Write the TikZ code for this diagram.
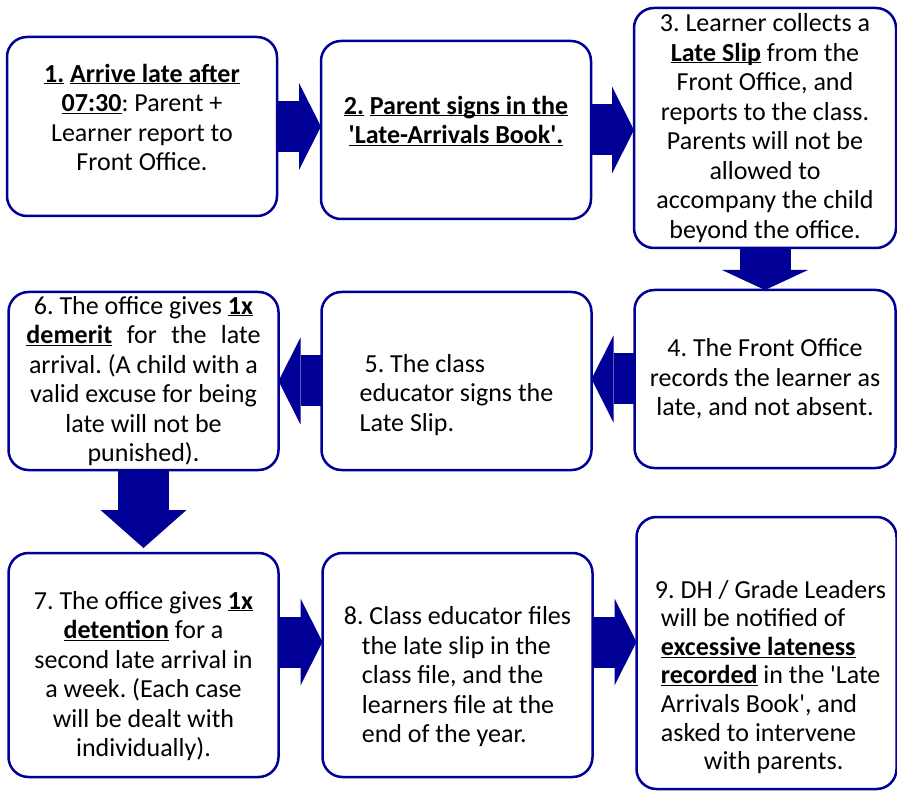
\documentclass[tikz,border=0pt]{standalone}
\usepackage{fontspec}
\setmainfont{Carlito}
\usetikzlibrary{positioning}
\usetikzlibrary{arrows.meta}
\definecolor{flowblue}{RGB}{0,0,150}
\newcommand{\ubf}[1]{\underline{\smash{\textbf{#1}}}}
\newcommand{\sq}{\textquotesingle}
\frenchspacing
\tikzset{
	stage/.style={rectangle, draw=flowblue, line width=2.5pt, rounded corners=20pt, outer sep=0pt, minimum width=270pt, minimum height=178pt, fill=white},
	stagetext/.style={align=center, inner sep=0pt, font=\fontsize{26}{29.5}\selectfont},
	bigarrow/.style={draw=flowblue, line width=51pt, -{Triangle[length=22pt, width=87pt, line width=0pt]}}
}
\begin{document}
\begin{tikzpicture}
\useasboundingbox (0,0) rectangle (897pt,-791pt);

\node[stage, minimum height=179pt] (b1) at (142pt,-126.5pt) {};
\node[stage, right = 44pt of b1, yshift=-3.5pt] (b2) {};
\node[stage, minimum width=262pt, minimum height=240pt, right = 43pt of b2, yshift=2pt] (b3) {};
\node[stage, minimum width=261pt, below = 42pt of b3] (b4) {};
\node[stage, left = 43pt of b4, yshift=-2pt] (b5) {};
\node[stage, left = 43pt of b5] (b6) {};
\node[stage, minimum height=224pt, below = 83pt of b6] (b7) {};
\node[stage, minimum height=224pt, right = 44pt of b7] (b8) {};
\node[stage, minimum width=260pt, minimum height=272pt, right = 44pt of b8, yshift=12pt] (b9) {};

\node[stagetext] (t1) at (b1) {\ubf{1.} \ubf{Arrive late after}\\
	\ubf{07:30}: Parent +\\Learner report to\\Front Office.};
\node[stagetext] (t2) at (b2) {\ubf{2.} \ubf{Parent signs in the}\\
	\ubf{\sq Late-Arrivals Book\sq.}};
\node[stagetext] (t3) at (b3) {3. Learner collects a\\\ubf{Late Slip} from the\\
	Front Office, and\\reports to the class.\\Parents will not be\\allowed to\\
	accompany the child\\beyond the office.};
\node[stagetext] (t4) at (b4) {4. The Front Office\\records the learner as\\
	late, and not absent.};
\node[stagetext, align=left] (t5) at ([yshift=-14pt]b5.center) {\hspace*{5pt}5. The class\\
	educator signs the\\Late Slip.};
\node[stagetext] (t6) at (b6) {6. The office gives \ubf{1x}\\
	\makebox[234pt][s]{\ubf{demerit} for the late}\\arrival. (A child with a\\
	valid excuse for being\\late will not be\\punished).};
\node[stagetext] (t7) at ([yshift=-11pt]b7.center) {7. The office gives \ubf{1x}\\
	\ubf{detention} for a\\second late arrival in\\a week. (Each case\\
	will be dealt with\\individually).};
\node[stagetext, align=left] (t8) at ([yshift=-12pt]b8.center) {8. Class educator files\\
	\hspace*{18pt}the late slip in the\\\hspace*{18pt}class file, and the\\
	\hspace*{18pt}learners file at the\\\hspace*{18pt}end of the year.};
\node[stagetext, align=left, font=\fontsize{26}{28.6}\selectfont] (t9) at ([xshift=4pt, yshift=-24pt]b9.center) {9. DH / Grade Leaders\\
	\hspace*{6pt}will be notified of\\\hspace*{6pt}\ubf{excessive lateness}\\
	\hspace*{6pt}\ubf{recorded} in the \sq Late\\\hspace*{6pt}Arrivals Book\sq, and\\
	\hspace*{6pt}asked to intervene\\\hspace*{49pt}with parents.};

\draw [bigarrow] (b1.east) -- (b1.east -| b2.west);
\draw [bigarrow] (b2.east) -- (b2.east -| b3.west);
\draw [bigarrow, -{Triangle[length=20pt, width=86pt, line width=0pt]}] (b3.south) -- (b4.north);
\draw [bigarrow] (b4.west) -- (b4.west -| b5.east);
\draw [bigarrow] (b5.west) -- (b5.west -| b6.east);
\draw [bigarrow, -{Triangle[length=38pt, width=86pt, line width=0pt]}, shorten >=5pt] (b6.south) -- (b7.north);
\draw [bigarrow] ([yshift=23pt]b7.east) -- ([yshift=23pt]b7.east -| b8.west);
\draw [bigarrow] ([yshift=23pt]b8.east) -- ([yshift=23pt]b8.east -| b9.west);

\end{tikzpicture}
\end{document}
